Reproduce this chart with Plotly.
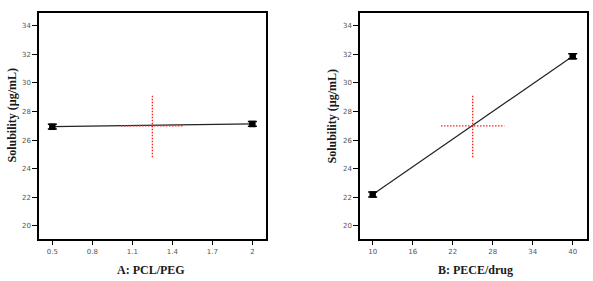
import plotly.graph_objects as go

# Data
a_x = [0.5, 2.0]
a_y = [26.94, 27.13]
a_err = [0.17, 0.17]
b_x = [10, 40]
b_y = [22.2, 31.86]
b_err = [0.17, 0.17]
center_a = (1.25, 27.0)
center_b = (25.0, 27.0)
a_ticks = [0.5, 0.8, 1.1, 1.4, 1.7, 2.0]
a_ticktext = ["0.5", "0.8", "1.1", "1.4", "1.7", "2"]
b_ticks = [10, 16, 22, 28, 34, 40]
y_ticks = [20, 22, 24, 26, 28, 30, 32, 34]

W, H = 593, 281
fig = go.Figure()

def add_panel(xs, ys, errs, center, halfx, xa, ya):
    fig.add_trace(go.Scatter(x=xs, y=ys, mode="lines", line=dict(color="#222", width=1.2),
                             xaxis=xa, yaxis=ya, showlegend=False, hoverinfo="skip"))
    cx, cy = center
    fig.add_trace(go.Scatter(x=[cx - halfx, cx + halfx], y=[cy, cy], mode="lines",
                             line=dict(color="#ff2020", width=1.3, dash="1.5px,1.5px"),
                             xaxis=xa, yaxis=ya, showlegend=False))
    fig.add_trace(go.Scatter(x=[cx, cx], y=[cy - 2.2, cy + 2.2], mode="lines",
                             line=dict(color="#ff2020", width=1.3, dash="1.5px,1.5px"),
                             xaxis=xa, yaxis=ya, showlegend=False))
    fig.add_trace(go.Scatter(x=xs, y=ys, mode="markers",
                             marker=dict(symbol="square", size=6.5, color="black"),
                             error_y=dict(type="data", array=errs, color="black", thickness=1.5, width=4.5),
                             xaxis=xa, yaxis=ya, showlegend=False))

add_panel(a_x, a_y, a_err, center_a, 0.235, "x", "y")
add_panel(b_x, b_y, b_err, center_b, 4.75, "x2", "y2")

ax_common = dict(showline=True, linecolor="black", linewidth=1.5, mirror=True,
                 ticks="outside", ticklen=5, tickcolor="black", tickwidth=1,
                 showgrid=False, zeroline=False,
                 tickfont=dict(family="DejaVu Sans", size=7, color="#555"))

ydom = [(H - 238.7) / H, (H - 13.3) / H]
fig.update_layout(
    width=W, height=H, margin=dict(l=0, r=0, t=0, b=0),
    plot_bgcolor="white", paper_bgcolor="white",
    xaxis=dict(domain=[39 / W, 265.7 / W], range=[0.4, 2.1], tickvals=a_ticks,
               ticktext=a_ticktext, anchor="y", **ax_common),
    yaxis=dict(domain=ydom, range=[19.11, 34.86], tickvals=y_ticks, anchor="x", **ax_common),
    xaxis2=dict(domain=[360 / W, 586.7 / W], range=[8.1, 42.1], tickvals=b_ticks,
                anchor="y2", **ax_common),
    yaxis2=dict(domain=ydom, range=[19.11, 34.86], tickvals=y_ticks, anchor="x2", **ax_common),
)

title_font = dict(family="'Liberation Serif', 'Times New Roman', 'DejaVu Serif', serif",
                  size=12, color="#1a1a1a")
for xp, txt in [(150.7, "A: PCL/PEG"), (475.7, "B: PECE/drug")]:
    fig.add_annotation(x=xp / W, y=(H - 270) / H, xref="paper", yref="paper",
                       text="<b>%s</b>" % txt, showarrow=False, font=title_font,
                       xanchor="center", yanchor="middle")
for xp in [12, 332]:
    fig.add_annotation(x=xp / W, y=(H - 115.5) / H, xref="paper", yref="paper",
                       text="<b>Solubility (µg/mL)</b>", showarrow=False, font=title_font,
                       textangle=-90, xanchor="center", yanchor="middle")

fig.write_html("out.html")
